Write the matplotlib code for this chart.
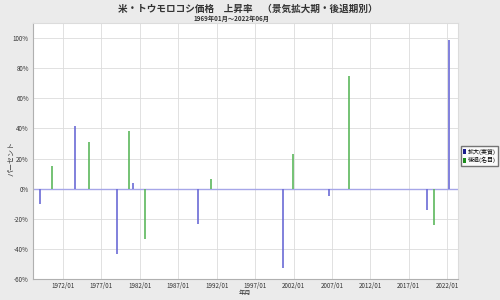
import matplotlib
matplotlib.use("Agg")
import matplotlib.pyplot as plt
from matplotlib.patches import Patch

plt.rcParams['font.family'] = ['Noto Sans CJK JP', 'DejaVu Sans']

# expansion phases (blue) and recession phases (green), position in decimal years
expand_dates = [1969.06, 1973.56, 1979.03, 1981.10, 1989.60, 2000.60, 2006.60, 2019.36, 2022.27]
expand_vals = [-10.0, 41.5, -43.3, 4.0, -23.3, -52.7, -5.1, -14.0, 98.9]
recess_dates = [1970.57, 1975.40, 1980.65, 1982.68, 1991.20, 2001.87, 2009.20, 2020.27]
recess_vals = [15.0, 30.9, 38.4, -33.3, 6.7, 22.9, 75.0, -24.0]

tick_years = [1972, 1977, 1982, 1987, 1992, 1997, 2002, 2007, 2012, 2017, 2022]
tick_labels = [f"{y}/01" for y in tick_years]
y_ticks = [-60, -40, -20, 0, 20, 40, 60, 80, 100]

BLUE = "#6b6bd6"
GREEN = "#5cb85c"

fig = plt.figure(figsize=(5, 3), dpi=100, facecolor="#ebebeb")
ax = fig.add_axes([0.066, 0.07, 0.85, 0.853], facecolor="white")

ax.grid(True, color="#dcdcdc", linewidth=0.6)
ax.set_axisbelow(True)
ax.axhline(0, color="#a6a6e8", linewidth=1.0, zorder=2)

ax.vlines(expand_dates, 0, expand_vals, color=BLUE, linewidth=1.2, zorder=3)
ax.vlines(recess_dates, 0, recess_vals, color=GREEN, linewidth=1.2, zorder=3)

ax.set_xlim(1968.1, 2023.4)
ax.set_ylim(-60, 110)
ax.set_xticks(tick_years)
ax.set_xticklabels(tick_labels)
ax.set_yticks(y_ticks)
ax.set_yticklabels([f"{v}%" for v in y_ticks])
ax.tick_params(labelsize=4.5, length=0, pad=3, colors="#333333")
ax.tick_params(axis="x", pad=2)

for side in ["top", "right"]:
    ax.spines[side].set_color("#dcdcdc")
for side in ["left", "bottom"]:
    ax.spines[side].set_color("#b0b0b0")

fig.text(0.49, 0.022, "年月", ha="center", va="center", fontsize=4.5, color="#333333")
fig.text(0.022, 0.47, "パーセント", ha="center", va="center", rotation=90,
         fontsize=5, color="#333333")

fig.text(0.496, 0.972, "米・トウモロコシ価格　上昇率　（景気拡大期・後退期別）",
         ha="center", va="center", fontsize=6.9, fontweight="bold", color="#333333")
fig.text(0.462, 0.937, "1969年01月～2022年06月", ha="center", va="center",
         fontsize=4.5, fontweight="bold", color="#333333")

handles = [Patch(facecolor="#1a1a8c", label="拡大(実質)"),
           Patch(facecolor="#1a8c1a", label="後退(名目)")]
fig.legend(handles=handles, loc="center left", bbox_to_anchor=(0.921, 0.48),
           fontsize=4.3, frameon=True, fancybox=False, edgecolor="#555555",
           handlelength=0.4, handleheight=1.0, handletextpad=0.3,
           borderpad=0.4, borderaxespad=0.1, labelspacing=0.35)

fig.savefig("out.png", dpi=100, facecolor=fig.get_facecolor())
